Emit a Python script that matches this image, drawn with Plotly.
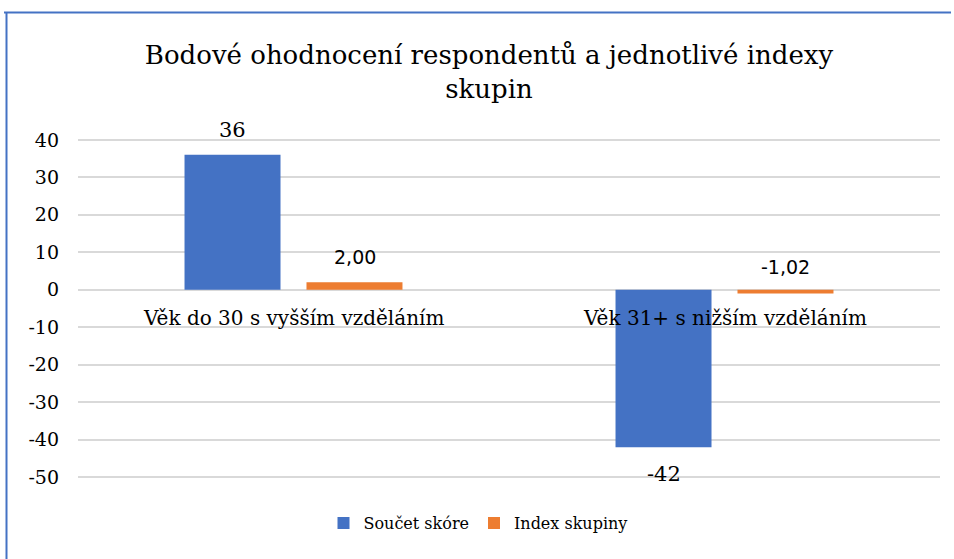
import plotly.graph_objects as go

# data
categories = ['Věk do 30 s vyšším vzděláním', 'Věk 31+ s nižším vzděláním']
soucet_skore = [36, -42]
index_skupiny = [2.00, -1.02]
y_ticks = [40, 30, 20, 10, 0, -10, -20, -30, -40, -50]

W, H = 954, 559
L, R, T, B = 78, 14, 138, 80
pw, ph = W - L - R, H - T - B

def px(x):
    return (x - L) / pw

def py(y):
    return (H - B - y) / ph

blue = '#4472C4'
orange = '#ED7D31'
serif = 'DejaVu Serif, Liberation Serif, serif'
sans = 'DejaVu Sans, Liberation Sans, sans-serif'

fig = go.Figure()
fig.add_trace(go.Bar(x=categories, y=soucet_skore, name='Součet skóre',
                     marker=dict(color=blue, line=dict(width=0))))
fig.add_trace(go.Bar(x=categories, y=index_skupiny, name='Index skupiny',
                     marker=dict(color=orange, line=dict(width=0))))

annotations = []
# category labels just under zero line
for c in categories:
    annotations.append(dict(x=c, y=0, text=c, showarrow=False, yanchor='middle',
                            yshift=-28, font=dict(family=serif, size=20, color='#000')))
# data labels
for c, v in zip(categories, soucet_skore):
    annotations.append(dict(x=c, y=v, text=str(v), showarrow=False, yanchor='middle',
                            xshift=-61, yshift=25 if v > 0 else -27,
                            font=dict(family=serif, size=21, color='#000')))
for c, v in zip(categories, index_skupiny):
    annotations.append(dict(x=c, y=v, text=f'{v:.2f}'.replace('.', ','), showarrow=False,
                            yanchor='middle', xshift=61, yshift=25 if v > 0 else 27,
                            font=dict(family=sans, size=19, color='#000')))

# chart frame (top and left edge visible)
shapes = [
    dict(type='line', xref='paper', yref='paper', x0=px(4), x1=px(951), y0=py(12.5), y1=py(12.5),
         line=dict(color=blue, width=2)),
    dict(type='line', xref='paper', yref='paper', x0=px(6.5), x1=px(6.5), y0=py(12.5), y1=py(H + 2),
         line=dict(color=blue, width=2)),
]

fig.update_layout(
    width=W, height=H,
    margin=dict(l=L, r=R, t=T, b=B),
    paper_bgcolor='white', plot_bgcolor='white',
    barmode='group', bargap=0.434, bargroupgap=0.213,
    title=dict(text='Bodové ohodnocení respondentů a jednotlivé indexy<br>skupin',
               x=489 / W, xanchor='center', y=1 - 64 / H, yanchor='middle',
               font=dict(family=serif, size=26, color='#000')),
    legend=dict(orientation='h', xref='container', yref='container',
                x=478 / W, xanchor='center', y=1 - 523 / H, yanchor='middle',
                font=dict(family=serif, size=16, color='#000'),
                itemwidth=30, traceorder='normal'),
    annotations=annotations,
    shapes=shapes,
)
fig.update_xaxes(showticklabels=False, showgrid=False, zeroline=False, showline=False)
fig.update_yaxes(range=[-50.5, 40.5], tickvals=y_ticks, ticktext=[str(t) for t in y_ticks],
                 showgrid=True, gridcolor='#d9d9d9', gridwidth=1.5,
                 zeroline=True, zerolinecolor='#d9d9d9', zerolinewidth=1.5,
                 showline=False, ticks='', ticklabelstandoff=18,
                 tickfont=dict(family=serif, size=19, color='#000'))

# page has a default 8px body margin; drop it so the figure sits at the window corner
fig.write_html('out.html', config={'displayModeBar': False},
               post_script="document.body.style.margin='0';")
